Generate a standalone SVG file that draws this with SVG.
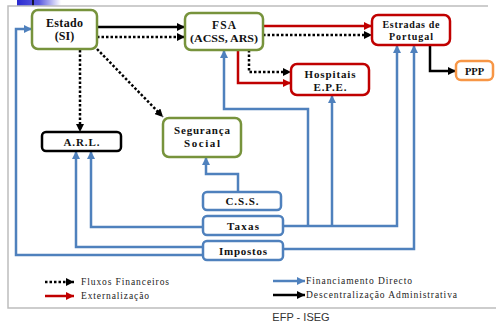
<svg xmlns="http://www.w3.org/2000/svg" width="496" height="326" viewBox="0 0 496 326">
<defs>
<linearGradient id="hdr" x1="0" y1="0" x2="1" y2="0">
<stop offset="0" stop-color="#2a2ad0"/><stop offset="0.5" stop-color="#5a5ae0"/><stop offset="1" stop-color="#ffffff"/>
</linearGradient>
<marker id="ak" markerUnits="userSpaceOnUse" markerWidth="9" markerHeight="8" refX="8" refY="4" orient="auto"><path d="M0,0 L8,4 L0,8 z" fill="#000"/></marker>
<marker id="ar" markerUnits="userSpaceOnUse" markerWidth="9" markerHeight="8" refX="8" refY="4" orient="auto"><path d="M0,0 L8,4 L0,8 z" fill="#c00000"/></marker>
<marker id="ab" markerUnits="userSpaceOnUse" markerWidth="9" markerHeight="8" refX="8" refY="4" orient="auto"><path d="M0,0 L8,4 L0,8 z" fill="#4f81bd"/></marker>
</defs>
<style>
.box{fill:#fff;stroke-width:2.5}
.g{stroke:#77933c}.r{stroke:#c00000}.k{stroke:#000}.o{stroke:#f79646}.b{stroke:#4f81bd}
.t{font-family:"Liberation Serif","Times New Roman",serif;font-weight:bold;text-anchor:middle;fill:#111}
.blue{fill:none;stroke:#4f81bd;stroke-width:2.5}
.blk{fill:none;stroke:#000;stroke-width:2.5}
.red{fill:none;stroke:#c00000;stroke-width:2.5}
.dot{fill:none;stroke:#000;stroke-width:2.5;stroke-dasharray:2.5 2}
.lg{font-family:"Liberation Serif","Times New Roman",serif;font-size:9.5px;fill:#222}
</style>
<rect x="17" y="0" width="44" height="6" fill="url(#hdr)"/>
<line x1="33" y1="0" x2="33" y2="6" stroke="#000" stroke-width="1.5"/>
<path d="M488,6 H8 V308 H496" fill="none" stroke="#bdbdbd" stroke-width="1.5"/>
<g id="connectors">
<path class="blk" d="M97,27 H185" marker-end="url(#ak)"/>
<path class="dot" d="M97,37 H185" marker-end="url(#ak)"/>
<path class="dot" d="M80,50 V132" marker-end="url(#ak)"/>
<path class="dot" d="M97,49 L163,117" marker-end="url(#ak)"/>
<path class="red" d="M263,26 H372" marker-end="url(#ar)"/>
<path class="dot" d="M263,35 H372" marker-end="url(#ak)"/>
<path class="dot" d="M249,50 V72 H291" marker-end="url(#ak)"/>
<path class="red" d="M238,50 V83 H291" marker-end="url(#ar)"/>
<path class="blk" d="M430,45 V71 H456" marker-end="url(#ak)"/>
<path class="blue" d="M203,255 H16 V29 H32" marker-end="url(#ab)"/>
<path class="blue" d="M203,247 H76 V151" marker-end="url(#ab)"/>
<path class="blue" d="M203,227 H91 V151" marker-end="url(#ab)"/>
<path class="blue" d="M238,192 V174 H206 V157" marker-end="url(#ab)"/>
<path class="blue" d="M283,226 H397 V45" marker-end="url(#ab)"/>
<path class="blue" d="M308,226 V109 H224 V50" marker-end="url(#ab)"/>
<path class="blue" d="M332,226 V95" marker-end="url(#ab)"/>
<path class="blue" d="M283,249 H414 V45" marker-end="url(#ab)"/>
</g>
<g id="estado"><rect class="box g" x="32" y="10" width="65" height="39" rx="6"/>
<text class="t" x="64.5" y="27" font-size="12" textLength="37">Estado</text><text class="t" x="64.5" y="40" font-size="12">(SI)</text></g>
<g id="fsa"><rect class="box g" x="185" y="13" width="78" height="37" rx="6"/>
<text class="t" x="224" y="29" font-size="11.5" textLength="24">FSA</text><text class="t" x="224" y="42" font-size="11" textLength="68" lengthAdjust="spacingAndGlyphs">(ACSS, ARS)</text></g>
<g id="estradas"><rect class="box r" x="372" y="15" width="78" height="30" rx="6"/>
<text class="t" x="411" y="28" font-size="10" textLength="57">Estradas de</text><text class="t" x="411" y="40" font-size="10" textLength="44">Portugal</text></g>
<g id="ppp"><rect class="box o" x="456" y="61" width="37" height="19" rx="5"/>
<text class="t" x="474.5" y="74.5" font-size="10.5">PPP</text></g>
<g id="hospitais"><rect class="box r" x="291" y="64" width="78" height="31" rx="6"/>
<text class="t" x="330" y="78" font-size="11" textLength="51">Hospitais</text><text class="t" x="330" y="91" font-size="11" textLength="33">E.P.E.</text></g>
<g id="arl"><rect class="box k" x="42" y="132" width="79" height="19" rx="4"/>
<text class="t" x="81.5" y="145.5" font-size="11" textLength="36">A.R.L.</text></g>
<g id="seguranca"><rect class="box g" x="163" y="118" width="78" height="39" rx="6"/>
<text class="t" x="202" y="134" font-size="11" textLength="56">Segurança</text><text class="t" x="202" y="147" font-size="11" textLength="36">Social</text></g>
<g id="css"><rect class="box b" x="203" y="192" width="78" height="18" rx="4"/>
<text class="t" x="242" y="205" font-size="11" textLength="33">C.S.S.</text></g>
<g id="taxas"><rect class="box b" x="203" y="216" width="80" height="19" rx="4"/>
<text class="t" x="243" y="229.5" font-size="11" textLength="32">Taxas</text></g>
<g id="impostos"><rect class="box b" x="203" y="241" width="80" height="19" rx="4"/>
<text class="t" x="243" y="254.5" font-size="11" textLength="48">Impostos</text></g>
<g id="legend">
<path class="dot" d="M45,282 H74" marker-end="url(#ak)"/>
<path class="red" d="M45,296 H74" marker-end="url(#ar)"/>
<path class="blue" d="M273,281 H305" marker-end="url(#ab)"/>
<path class="blk" d="M273,295 H305" marker-end="url(#ak)"/>
<text class="lg" x="81" y="285" textLength="88">Fluxos Financeiros</text>
<text class="lg" x="81" y="299" textLength="68">Externalização</text>
<text class="lg" x="306" y="284" textLength="106">Financiamento Directo</text>
<text class="lg" x="306" y="298" textLength="151">Descentralização Administrativa</text>
</g>
<text x="301" y="321" font-family="Liberation Sans, Arial, sans-serif" font-size="11" fill="#333" text-anchor="middle">EFP - ISEG</text>
</svg>
